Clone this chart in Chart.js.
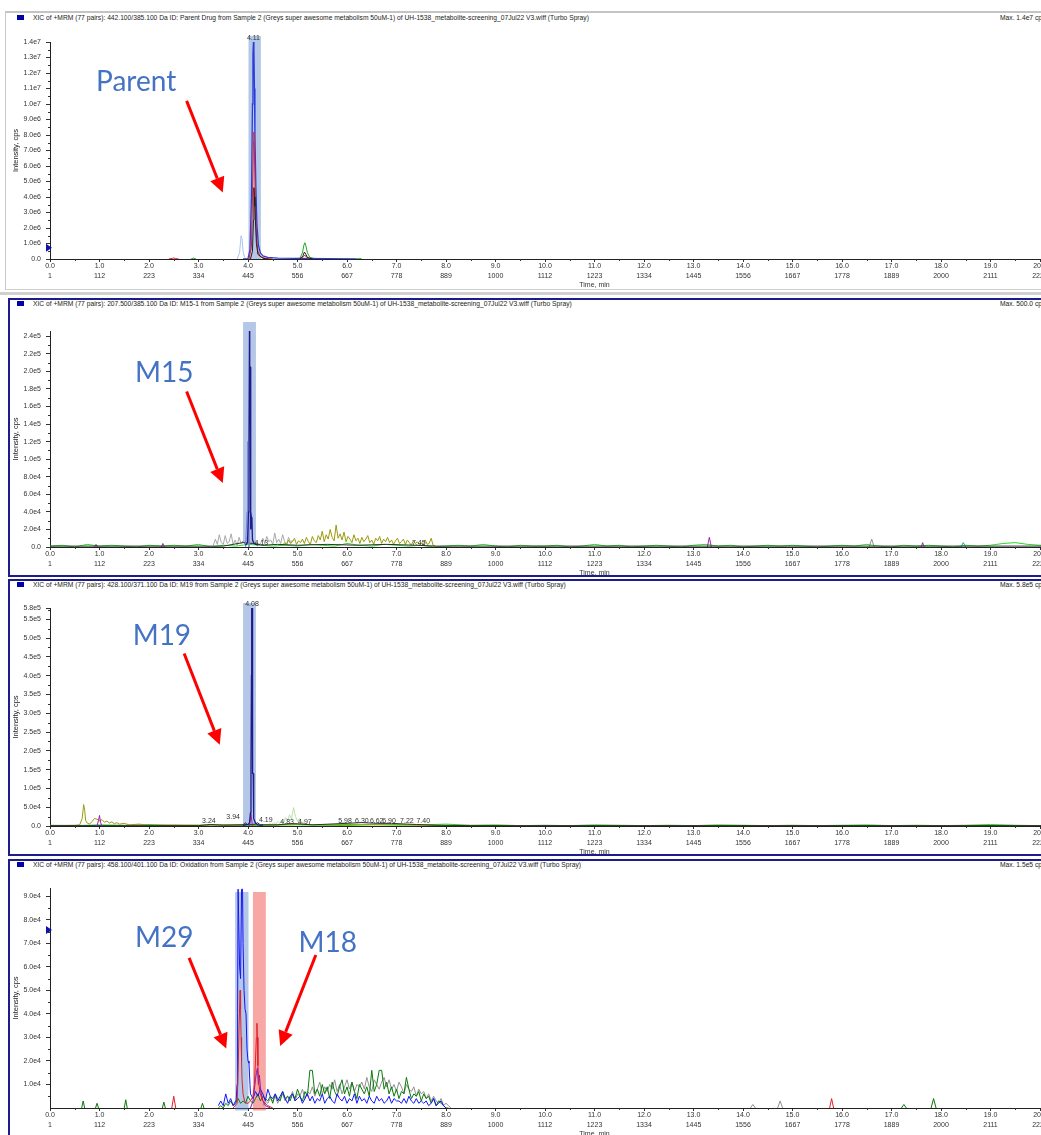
<!DOCTYPE html>
<html>
<head>
<meta charset="utf-8">
<title>XIC metabolite screening</title>
<script src="https://cdn.jsdelivr.net/npm/chart.js"></script>
<style>
  html, body { margin: 0; padding: 0; background: #fff; overflow: hidden; width: 1041px; height: 1135px; }
  body { position: relative; font-family: "Liberation Sans", Arial, sans-serif; }
  .frame { position: absolute; box-sizing: border-box; }
  .f1 { left: 5px; top: 11px; width: 1100px; height: 279px; border-top: 2px solid #c4c4c4; border-left: 1px solid #c8c8c8; border-bottom: 1px solid #d0d0d0; }
  .navy { left: 8px; width: 1100px; border: 2px solid #1c1c8a; border-right: none; }
  .sep { position: absolute; left: 0; width: 1041px; background: #d0d0d0; }
  .hdr { position: absolute; left: 33px; font-size: 6.7px; color: #222; white-space: nowrap; line-height: 8px; }
  .sq { position: absolute; left: 17px; width: 7px; height: 5px; background: #0000a8; }
  .max { position: absolute; left: 1000px; font-size: 6.7px; color: #222; white-space: nowrap; line-height: 8px; }
  canvas { position: absolute; left: 0; }
</style>
</head>
<body>
<div class="frame f1"></div>
<div class="sep" style="top:292px;height:3px"></div>
<div class="frame navy" style="top:298px;height:279px"></div>
<div class="frame navy" style="top:579px;height:277px"></div>
<div class="frame navy" style="top:859px;height:290px"></div>

<div class="sq" style="top:15px"></div>
<div class="hdr" style="top:14px">XIC of +MRM (77 pairs): 442.100/385.100 Da ID: Parent Drug from Sample 2 (Greys super awesome metabolism 50uM-1) of UH-1538_metabolite-screening_07Jul22 V3.wiff (Turbo Spray)</div>
<div class="max" style="top:14px">Max. 1.4e7 cps.</div>

<div class="sq" style="top:301px"></div>
<div class="hdr" style="top:300px">XIC of +MRM (77 pairs): 207.500/385.100 Da ID: M15-1 from Sample 2 (Greys super awesome metabolism 50uM-1) of UH-1538_metabolite-screening_07Jul22 V3.wiff (Turbo Spray)</div>
<div class="max" style="top:300px">Max. 500.0 cps.</div>

<div class="sq" style="top:582px"></div>
<div class="hdr" style="top:581px">XIC of +MRM (77 pairs): 428.100/371.100 Da ID: M19 from Sample 2 (Greys super awesome metabolism 50uM-1) of UH-1538_metabolite-screening_07Jul22 V3.wiff (Turbo Spray)</div>
<div class="max" style="top:581px">Max. 5.8e5 cps.</div>

<div class="sq" style="top:862px"></div>
<div class="hdr" style="top:861px">XIC of +MRM (77 pairs): 458.100/401.100 Da ID: Oxidation from Sample 2 (Greys super awesome metabolism 50uM-1) of UH-1538_metabolite-screening_07Jul22 V3.wiff (Turbo Spray)</div>
<div class="max" style="top:861px">Max. 1.5e5 cps.</div>

<canvas id="c1" width="1150" height="278" style="top:12px"></canvas>
<canvas id="c2" width="1150" height="278" style="top:300px"></canvas>
<canvas id="c3" width="1150" height="276" style="top:581px"></canvas>
<canvas id="c4" width="1150" height="278" style="top:861px"></canvas>

<script>
// x axis: time (min) and scan number
const timeTicks = [0, 1, 2, 3, 4, 5, 6, 7, 8, 9, 10, 11, 12, 13, 14, 15, 16, 17, 18, 19, 20, 21, 22];
const scanTicks = [1, 112, 223, 334, 445, 556, 667, 778, 889, 1000, 1112, 1223, 1334, 1445, 1556, 1667, 1778, 1889, 2000, 2111, 2222, 2333, 2444];

// intensities are in thousands of cps
const p1YTicks = [0, 1000, 2000, 3000, 4000, 5000, 6000, 7000, 8000, 9000, 10000, 11000, 12000, 13000, 14000];
const p1YLabels = ["0.0", "1.0e6", "2.0e6", "3.0e6", "4.0e6", "5.0e6", "6.0e6", "7.0e6", "8.0e6", "9.0e6", "1.0e7", "1.1e7", "1.2e7", "1.3e7", "1.4e7"];
const p2YTicks = [0, 20, 40, 60, 80, 100, 120, 140, 160, 180, 200, 220, 240];
const p2YLabels = ["0.0", "2.0e4", "4.0e4", "6.0e4", "8.0e4", "1.0e5", "1.2e5", "1.4e5", "1.6e5", "1.8e5", "2.0e5", "2.2e5", "2.4e5"];
const p3YTicks = [0, 50, 100, 150, 200, 250, 300, 350, 400, 450, 500, 550, 580];
const p3YLabels = ["0.0", "5.0e4", "1.0e5", "1.5e5", "2.0e5", "2.5e5", "3.0e5", "3.5e5", "4.0e5", "4.5e5", "5.0e5", "5.5e5", "5.8e5"];
const p4YTicks = [10, 20, 30, 40, 50, 60, 70, 80, 90];
const p4YLabels = ["1.0e4", "2.0e4", "3.0e4", "4.0e4", "5.0e4", "6.0e4", "7.0e4", "8.0e4", "9.0e4"];

// Parent drug 442.1/385.1  [time, kcps], null = gap
const p1Blue = [[3.9, 5], [3.95, 5], [4.0, 30], [4.04, 600], [4.07, 4000], [4.09, 10000], [4.10, 13200], [4.11, 14000], [4.12, 13500], [4.13, 11000], [4.14, 8000], [4.16, 4500], [4.18, 2200], [4.21, 900], [4.25, 400], [4.3, 200], [4.4, 100], [4.6, 60], [5.0, 40], [5.6, 15], [6.2, 5]];
const p1Red = [[2.4, 0], [2.47, 40], [2.5, 70], [2.53, 30], [2.6, 0], [2.61, null], [4.02, 0], [4.07, 800], [4.09, 4000], [4.11, 7600], [4.12, 8200], [4.13, 7000], [4.15, 3500], [4.17, 1500], [4.2, 500], [4.25, 150], [4.35, 50], [4.5, 0], [4.51, null], [5.05, 0], [5.12, 150], [5.15, 250], [5.18, 120], [5.25, 0]];
const p1Black = [[4.05, 0], [4.09, 500], [4.11, 2500], [4.12, 4600], [4.13, 4000], [4.14, 3400], [4.15, 2500], [4.17, 1000], [4.2, 300], [4.3, 50], [4.4, 0], [4.41, null], [5.05, 0], [5.11, 200], [5.14, 450], [5.17, 300], [5.2, 100], [5.3, 0]];
const p1PaleBlue = [[3.78, 0], [3.83, 400], [3.86, 1500], [3.88, 1300], [3.9, 500], [3.93, 100], [3.97, 0]];
const p1Green = [[2.85, 0], [2.9, 60], [2.95, 0], [2.96, null], [4.9, 0], [5.05, 50], [5.1, 400], [5.13, 900], [5.15, 1050], [5.17, 850], [5.2, 400], [5.25, 100], [5.35, 20], [5.5, 0], [5.51, null], [6.2, 0], [6.25, 40], [6.3, 0]];

// M15 207.5/385.1
const p2Navy = [[3.95, 2], [3.99, 5], [4.01, 40], [4.02, 120], [4.03, 246], [4.035, 205], [4.045, 205], [4.05, 125], [4.055, 60], [4.06, 20], [4.07, 34], [4.08, 30], [4.09, 8], [4.12, 4], [4.2, 2]];
const p2PaleBlue = [[3.95, 0], [3.98, 40], [3.99, 120], [4.0, 40], [4.02, 0]];
const p2Gray = [2, 9, 3, 14, 5, 3, 13, 4, 6, 15, 3, 8, 2, 11, 4, 7, 3, 12, 5, 4, 9, 3, 6, 2, 5, 10, 4, 12, 6, 8, 3, 16, 5, 9, 4, 14, 6, 3, 11, 5, 8];
const p2Olive = [2, 5, 3, 8, 4, 6, 10, 3, 7, 5, 9, 4, 11, 6, 3, 12, 7, 5, 13, 8, 18, 6, 14, 9, 20, 11, 7, 25, 10, 15, 8, 17, 6, 12, 9, 5, 14, 7, 10, 4, 11, 6, 9, 13, 5, 8, 3, 10, 7, 12, 4, 9, 6, 11, 5, 8, 3, 7, 10, 4, 6, 9, 3, 8, 5, 2, 7, 4, 6, 3, 5, 2, 8, 3, 4, 10, 2, 1];
const p2Green = [1, 2, 0, 3, 1, 2, 1, 0, 2, 1, 2, 1, 3, 0, 2, 1, 3, 2, 1, 2, 1, 3, 2, 1, 4, 2, 1, 3, 2, 1, 2, 0, 1, 2, 1, 3, 1, 0, 2, 1, 1, 2, 0, 1, 3, 1, 2, 0, 1, 2, 1, 0, 2, 3, 1, 2, 0, 1, 2, 1, 2, 1, 0, 1, 2, 1, 3, 1, 0, 2, 1, 2, 1, 0, 2, 1, 2, 4, 5, 3, 2, 1, 3, 1, 2, 1, 0, 1, 2];
const p2Black = [[0, 1], [3.5, 1], [3.7, 3], [3.9, 5], [4.1, 4], [4.3, 2], [4.6, 3], [5.0, 2], [5.6, 3], [6.2, 2], [6.8, 3], [7.4, 2], [7.8, 1], [22, 1]];
const p2Purple = [[0.9, 0], [0.93, 3], [0.96, 0], [0.97, null], [2.25, 0], [2.28, 4], [2.31, 0], [2.32, null], [13.28, 0], [13.32, 11], [13.36, 0], [13.37, null], [17.6, 0], [17.63, 5], [17.66, 0]];
const p2GrayFar = [[16.55, 0], [16.6, 9], [16.65, 0]];
const p2Teal = [[18.4, 0], [18.45, 5], [18.5, 0]];

// M19 428.1/371.1
const p3Navy = [[3.9, 2], [4.0, 4], [4.03, 8], [4.05, 35], [4.06, 150], [4.07, 400], [4.075, 580], [4.085, 580], [4.09, 400], [4.095, 140], [4.105, 140], [4.11, 50], [4.12, 20], [4.15, 8], [4.2, 3], [4.3, 2]];
const p3Olive = [[0, 1], [0.5, 2], [0.6, 3], [0.65, 20], [0.68, 57], [0.7, 42], [0.72, 15], [0.75, 8], [0.8, 5], [0.85, 12], [0.9, 20], [0.95, 18], [1.0, 14], [1.05, 17], [1.1, 10], [1.15, 13], [1.2, 8], [1.25, 11], [1.3, 6], [1.35, 9], [1.4, 5], [1.5, 7], [1.6, 3], [1.8, 5], [2.0, 2], [2.5, 3], [3.0, 2], [3.5, 3], [4.0, 4], [4.5, 3], [5.0, 5], [5.5, 3], [6.0, 4], [6.5, 3], [7.0, 4], [7.5, 2], [8.0, 1], [22, 1]];
const p3Purple = [[0.95, 0], [0.98, 15], [1.0, 28], [1.02, 10], [1.05, 0], [1.06, null], [4.03, 0], [4.06, 32], [4.09, 0]];
const p3PaleGreen = [3, 6, 4, 9, 5, 12, 7, 15, 9, 22, 14, 30, 18, 49, 25, 12, 20, 8, 11, 5, 3];
const p3Black = [[0, 1], [3.0, 1], [3.24, 4], [3.5, 2], [3.9, 3], [3.94, 9], [4.0, 3], [4.15, 5], [4.19, 9], [4.25, 3], [4.6, 3], [4.83, 6], [4.97, 6], [5.3, 3], [5.98, 7], [6.30, 9], [6.62, 7], [6.90, 7], [7.22, 5], [7.40, 4], [7.8, 2], [8.5, 1], [22, 1]];
const p3Green = [2, 1, 3, 2, 4, 1, 2, 3, 1, 2, 3, 2, 1, 4, 2, 3, 5, 2, 3, 1, 2, 1, 3, 2, 1, 2, 1, 3, 2, 1, 2, 1, 2, 3, 1, 2, 1, 2, 4, 2, 1, 2, 1, 2, 1];
const p3PeakText = ["3.24", "3.94", "4.19", "4.83", "4.97", "5.98", "6.30", "6.62", "6.90", "7.22", "7.40"];
const p3PeakX = [3.21, 3.70, 4.36, 4.79, 5.15, 5.96, 6.30, 6.60, 6.85, 7.21, 7.54];
const p3PeakY = [12, 23, 17, 11, 11, 13, 13, 13, 13, 13, 13];

// Oxidation 458.1/401.1
const p4BluePre = [1, 3, 1, 6, 2, 4, 1, 3];
const p4BluePeak = [[3.76, 3], [3.78, 10], [3.79, 40], [3.80, 93], [3.815, 93], [3.83, 60], [3.85, 55], [3.87, 93], [3.89, 93], [3.90, 70], [3.92, 50], [3.94, 42], [3.96, 40], [3.98, 25], [4.0, 20], [4.02, 19], [4.04, 10]];
const p4BlueNoise = [6, 4, 7, 5, 8, 6, 3, 8, 5, 4, 6, 3, 5, 7, 4, 2, 5, 6, 3, 4, 5, 2, 4, 6, 3, 5, 2, 4, 3, 6, 2, 4, 5, 3, 2, 6, 4, 3, 5, 2, 4, 3, 6, 2, 5, 3, 4, 2, 5, 3, 2, 5, 3, 4, 2, 3, 5, 2, 4, 3, 3, 2, 4, 2, 5, 3, 2, 4, 2, 3, 2, 3, 1, 2, 4, 1, 2, 3, 1, 0];
const p4Red = [[2.46, 0], [2.5, 5], [2.54, 0], [2.55, null], [3.7, 0], [3.78, 2], [3.8, 15], [3.82, 35], [3.84, 50], [3.85, 42], [3.86, 30], [3.87, 20], [3.88, 12], [3.9, 6], [3.93, 3], [3.97, 2], [4.0, 2], [4.05, 3], [4.1, 5], [4.13, 10], [4.15, 20], [4.17, 30], [4.18, 36], [4.19, 30], [4.2, 18], [4.22, 10], [4.25, 6], [4.3, 3], [4.4, 1], [4.5, 0], [4.51, null], [15.75, 0], [15.79, 4], [15.83, 0]];
const p4Purple = [[4.05, 0], [4.1, 3], [4.13, 8], [4.15, 12], [4.17, 15], [4.19, 17], [4.21, 10], [4.23, 14], [4.25, 9], [4.27, 6], [4.3, 3], [4.35, 1], [4.45, 0]];
const p4GreenEarly = [[0.64, 0], [0.67, 3], [0.7, 0], [0.71, null], [0.92, 0], [0.95, 2], [0.98, 0], [0.99, null], [1.5, 0], [1.53, 3.5], [1.56, 0], [1.57, null], [2.27, 0], [2.3, 2.5], [2.33, 0], [2.34, null], [3.05, 0], [3.08, 2], [3.11, 0], [3.12, null]];
const p4GreenNoise = [0, 1, 0, 2, 1, 3, 1, 2, 4, 2, 3, 2, 5, 3, 2, 4, 6, 3, 5, 4, 3, 5, 2, 6, 4, 3, 7, 4, 5, 3, 6, 4, 8, 5, 3, 7, 5, 16, 16, 6, 8, 5, 10, 6, 9, 4, 11, 7, 5, 9, 12, 6, 9, 5, 11, 7, 4, 10, 8, 6, 9, 5, 16, 7, 10, 16, 16, 8, 11, 6, 9, 5, 8, 4, 7, 6, 13, 8, 4, 6, 5, 7, 3, 6, 4, 5, 2, 4, 1, 3, 2, 1, 0, 0];
const p4GreenLate = [[8.1, null], [17.2, 0], [17.25, 1.5], [17.3, 0], [17.31, null], [17.8, 0], [17.85, 4], [17.9, 0]];
const p4Gray = [1, 3, 2, 4, 3, 5, 2, 4, 6, 3, 5, 4, 7, 3, 6, 5, 8, 4, 7, 6, 9, 5, 8, 11, 6, 9, 7, 10, 8, 12, 7, 10, 6, 9, 12, 8, 11, 7, 10, 9, 11, 8, 13, 9, 7, 12, 10, 8, 11, 13, 9, 12, 8, 10, 7, 11, 9, 6, 10, 8, 7, 9, 5, 8, 6, 7, 4, 6, 3, 5, 3, 2, 4, 1, 2, 1, 0];
const p4GrayLate = [[8.2, null], [14.15, 0], [14.2, 1.5], [14.25, 0], [14.26, null], [14.7, 0], [14.75, 3], [14.8, 0]];

const FONT = '"Liberation Sans", Arial, sans-serif';
Chart.defaults.font.family = FONT;
Chart.defaults.font.size = 7;
Chart.defaults.color = "#333";

function pts(pairs) {
	return pairs.map((p) => ({ x: p[0], y: p[1] }));
}
// evenly spaced scans from a start time
function scans(start, dt, vals) {
	return vals.map((v, i) => ({ x: +(start + i * dt).toFixed(3), y: v }));
}
function trace(data, color, width) {
	return { data: data, borderColor: color, borderWidth: width || 1, pointRadius: 0, fill: false, tension: 0, spanGaps: false };
}

function drawArrow(ctx, x1, y1, x2, y2) {
	const ang = Math.atan2(y2 - y1, x2 - x1);
	const head = 15, half = 7.5;
	const bx = x2 - head * Math.cos(ang), by = y2 - head * Math.sin(ang);
	ctx.strokeStyle = "#ff0000";
	ctx.fillStyle = "#ff0000";
	ctx.lineWidth = 3;
	ctx.beginPath();
	ctx.moveTo(x1, y1);
	ctx.lineTo(bx, by);
	ctx.stroke();
	ctx.beginPath();
	ctx.moveTo(x2, y2);
	ctx.lineTo(bx + half * Math.sin(ang), by - half * Math.cos(ang));
	ctx.lineTo(bx - half * Math.sin(ang), by + half * Math.cos(ang));
	ctx.closePath();
	ctx.fill();
}

function decor(cfg) {
	return {
		id: "decor",
		beforeDatasetsDraw(chart) {
			const { ctx, chartArea: a, scales: { x } } = chart;
			ctx.save();
			cfg.bands.forEach((b) => {
				const x0 = x.getPixelForValue(b[0]), x1 = x.getPixelForValue(b[1]);
				ctx.fillStyle = b[2];
				ctx.fillRect(x0, a.top - b[3], x1 - x0, a.bottom - a.top + b[3] + b[4]);
			});
			ctx.restore();
		},
		afterDraw(chart) {
			const { ctx, chartArea: a, scales: { x, y } } = chart;
			ctx.save();
			// minor ticks
			ctx.strokeStyle = "#333";
			ctx.lineWidth = 1;
			ctx.beginPath();
			for (let t = 0.5; t < 22; t += 1) {
				const px = Math.round(x.getPixelForValue(t)) + 0.5;
				ctx.moveTo(px, a.bottom);
				ctx.lineTo(px, a.bottom + 2);
			}
			for (let v = cfg.yMinor; v < cfg.yMax; v += cfg.yMinor * 2) {
				const py = Math.round(y.getPixelForValue(v)) + 0.5;
				ctx.moveTo(a.left - 2, py);
				ctx.lineTo(a.left, py);
			}
			ctx.stroke();
			// marker on the intensity axis
			if (cfg.marker != null) {
				const my = y.getPixelForValue(cfg.marker);
				ctx.fillStyle = "#1010b0";
				ctx.beginPath();
				ctx.moveTo(a.left + 2, my);
				ctx.lineTo(a.left - 4, my - 4);
				ctx.lineTo(a.left - 4, my + 4);
				ctx.closePath();
				ctx.fill();
			}
			// peak labels
			ctx.fillStyle = "#333";
			ctx.font = "7px " + FONT;
			ctx.textAlign = "center";
			ctx.textBaseline = "middle";
			cfg.peaks.forEach((p) => {
				const py = Math.max(y.getPixelForValue(p[2]), a.top) - (p[3] || 0);
				ctx.fillText(p[0], x.getPixelForValue(p[1]), py);
			});
			// annotations
			ctx.fillStyle = "#4472c4";
			ctx.font = "28px Lato, 'Open Sans', sans-serif";
			ctx.textBaseline = "alphabetic";
			cfg.notes.forEach((n) => ctx.fillText(n[0], x.getPixelForValue(n[1]), y.getPixelForValue(n[2])));
			cfg.arrows.forEach((r) =>
				drawArrow(ctx, x.getPixelForValue(r[0]), y.getPixelForValue(r[1]), x.getPixelForValue(r[2]), y.getPixelForValue(r[3]))
			);
			ctx.restore();
		},
	};
}

function makeChart(id, cfg) {
	return new Chart(document.getElementById(id), {
		type: "line",
		data: { datasets: cfg.datasets },
		options: {
			responsive: false,
			animation: false,
			devicePixelRatio: 1,
			layout: { padding: { top: cfg.padTop, left: 11, right: 11, bottom: 0 } },
			plugins: { legend: { display: false }, tooltip: { enabled: false } },
			scales: {
				x: {
					type: "linear",
					min: 0,
					max: 22,
					afterBuildTicks: (s) => {
						s.ticks = timeTicks.map((v) => ({ value: v }));
					},
					afterFit: (s) => {
						s.height = 31;
					},
					ticks: {
						autoSkip: false,
						maxRotation: 0,
						padding: 0,
						font: { size: 7, lineHeight: 1.3 },
						callback: (v, i) => [timeTicks[i].toFixed(1), String(scanTicks[i])],
					},
					grid: { drawOnChartArea: false, drawTicks: true, tickLength: 3, color: "#333" },
					border: { display: true, color: "#222" },
					title: { display: true, text: "Time, min", font: { size: 7 }, padding: { top: 0, bottom: 1 } },
				},
				y: {
					min: 0,
					max: cfg.yMax,
					afterBuildTicks: (s) => {
						s.ticks = cfg.yTicks.map((v) => ({ value: v }));
					},
					afterFit: (s) => {
						s.width = 39;
					},
					ticks: { autoSkip: false, padding: 5, callback: (v, i) => cfg.yLabels[i] },
					grid: { drawOnChartArea: false, drawTicks: true, tickLength: 4, color: "#333" },
					border: { display: true, color: "#222" },
					title: { display: true, text: "Intensity, cps", color: "#222", font: { size: 7.5 }, padding: { top: 0, bottom: 0 } },
				},
			},
		},
		plugins: [decor(cfg)],
	});
}

const bandBlue = "rgba(68,114,196,0.4)";
const bandRed = "rgba(240,60,60,0.45)";

makeChart("c1", {
	padTop: 30,
	yMax: 14000,
	yTicks: p1YTicks,
	yLabels: p1YLabels,
	yMinor: 500,
	marker: 730,
	bands: [[4.01, 4.26, bandBlue, 6, 0]],
	peaks: [["4.11", 4.11, 14000, 4]],
	notes: [["Parent", 1.74, 10830]],
	arrows: [[2.76, 10200, 3.49, 4290]],
	datasets: [
		trace(pts(p1Black), "#202020"),
		trace(pts(p1Red), "#e0202a"),
		trace(pts(p1Blue), "#2c3cdc", 1.3),
		trace(pts(p1Green), "#20a820"),
		trace(pts(p1PaleBlue), "#a9c4ee"),
	],
});

makeChart("c2", {
	padTop: 31,
	yMax: 246,
	yTicks: p2YTicks,
	yLabels: p2YLabels,
	yMinor: 10,
	marker: null,
	bands: [[3.9, 4.16, bandBlue, 9, -4]],
	peaks: [["4.13", 4.27, 5, 0], ["7.45", 7.45, 5, 0]],
	notes: [["M15", 2.31, 187.7]],
	arrows: [[2.76, 177.1, 3.49, 72.8]],
	datasets: [
		trace(pts(p2Navy), "#1c1c8c", 1.3),
		trace(pts(p2PaleBlue), "#7c8ad8"),
		trace(pts(p2Black), "#303030"),
		trace(pts(p2Purple), "#a020a8"),
		trace(pts(p2GrayFar), "#909090"),
		trace(pts(p2Teal), "#20a0a0"),
		trace(scans(4.70, 0.04, p2Olive), "#9a9a10"),
		trace(scans(3.30, 0.04, p2Gray), "#a8a8a8"),
		trace(scans(0, 0.25, p2Green), "#22dd22"),
	],
});

makeChart("c3", {
	padTop: 27,
	yMax: 580,
	yTicks: p3YTicks,
	yLabels: p3YLabels,
	yMinor: 25,
	marker: null,
	bands: [[3.9, 4.16, bandBlue, 5, -2]],
	peaks: [["4.08", 4.08, 580, 4]].concat(p3PeakText.map((s, i) => [s, p3PeakX[i], p3PeakY[i], 0])),
	notes: [["M19", 2.26, 481.2]],
	arrows: [[2.71, 459.0, 3.43, 216.0]],
	datasets: [
		trace(pts(p3Navy), "#1c1c8c", 1.3),
		trace(pts(p3Purple), "#a020a8"),
		trace(pts(p3Black), "#303030"),
		trace(pts(p3Olive), "#9a9a10"),
		trace(scans(4.40, 0.04, p3PaleGreen), "#b8e0b0"),
		trace(scans(0, 0.5, p3Green), "#22dd22"),
	],
});

makeChart("c4", {
	padTop: 27,
	yMax: 93.5,
	yTicks: p4YTicks,
	yLabels: p4YLabels,
	yMinor: 5,
	marker: 75.6,
	bands: [[3.74, 4.01, bandBlue, -4, 2.5], [4.10, 4.36, bandRed, -4, 2.5]],
	peaks: [],
	notes: [["M29", 2.31, 68.5], ["M18", 5.61, 66.4]],
	arrows: [[2.81, 63.8, 3.56, 25.3], [5.37, 65.0, 4.65, 26.4]],
	datasets: [
		trace(pts(p4Red), "#e0202a"),
		trace(pts(p4Purple), "#7a1ec8"),
		trace(scans(3.40, 0.05, p4BluePre).concat(pts(p4BluePeak), scans(4.05, 0.05, p4BlueNoise)), "#1414ff"),
		trace(pts(p4GreenEarly).concat(scans(3.40, 0.05, p4GreenNoise), pts(p4GreenLate)), "#0a7a0a"),
		trace(scans(4.30, 0.05, p4Gray).concat(pts(p4GrayLate)), "#909090"),
	],
});
</script>
</body>
</html>
